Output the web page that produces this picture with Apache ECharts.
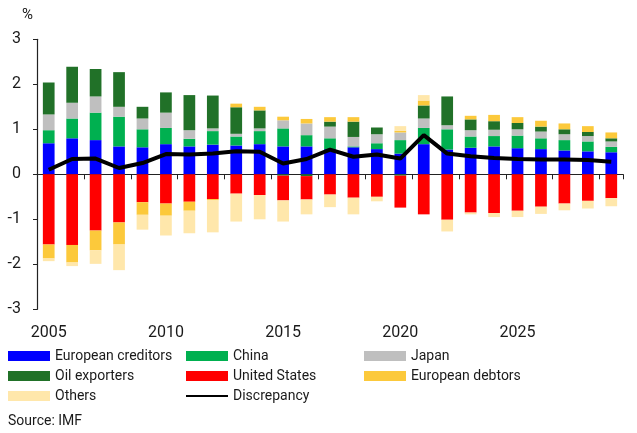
<!DOCTYPE html>
<html lang="en">
<head>
    <meta http-equiv="Content-Type" content="text/html; charset=utf-8"/>
    <title>Global current account balances</title>
    <script src="https://cdn.jsdelivr.net/npm/echarts@6/dist/echarts.min.js"></script>
</head>
<body style="margin:0">
<style>
    #chart {
        width: 637px;
        height: 433px;
    }
</style>
<div id="chart"></div>
<script type="text/javascript">

  var years = ['2005', '2006', '2007', '2008', '2009', '2010', '2011', '2012', '2013', '2014', '2015', '2016', '2017',
    '2018', '2019', '2020', '2021', '2022', '2023', '2024', '2025', '2026', '2027', '2028', '2029'];

  var euroCreditors = [0.69, 0.80, 0.76, 0.62, 0.60, 0.67, 0.62, 0.66, 0.64, 0.67, 0.62, 0.62, 0.56, 0.60, 0.56, 0.46, 0.67, 0.55, 0.59, 0.62, 0.58, 0.56, 0.53, 0.51, 0.49];
  var china = [0.29, 0.44, 0.61, 0.66, 0.40, 0.36, 0.17, 0.30, 0.20, 0.29, 0.40, 0.25, 0.24, 0.02, 0.13, 0.30, 0.36, 0.45, 0.25, 0.23, 0.28, 0.24, 0.23, 0.22, 0.12];
  var japan = [0.35, 0.35, 0.36, 0.22, 0.24, 0.34, 0.19, 0.06, 0.06, 0.06, 0.18, 0.26, 0.26, 0.21, 0.20, 0.17, 0.21, 0.09, 0.14, 0.14, 0.14, 0.15, 0.13, 0.12, 0.12];
  var oilExporters = [0.71, 0.80, 0.61, 0.77, 0.26, 0.45, 0.78, 0.73, 0.59, 0.40, -0.03, -0.04, 0.11, 0.34, 0.15, -0.03, 0.29, 0.64, 0.24, 0.19, 0.14, 0.11, 0.11, 0.09, 0.07];
  var unitedStates = [-1.56, -1.57, -1.25, -1.07, -0.62, -0.65, -0.61, -0.55, -0.43, -0.46, -0.55, -0.52, -0.45, -0.52, -0.50, -0.71, -0.89, -1.01, -0.85, -0.86, -0.81, -0.72, -0.65, -0.59, -0.53];
  var euroDebtors = [-0.31, -0.39, -0.44, -0.49, -0.28, -0.27, -0.20, -0.03, 0.08, 0.08, 0.08, 0.10, 0.10, 0.10, 0, 0.04, 0.11, 0, 0.08, 0.14, 0.13, 0.13, 0.13, 0.13, 0.13];
  var others = [-0.06, -0.08, -0.30, -0.57, -0.33, -0.44, -0.50, -0.71, -0.62, -0.54, -0.47, -0.33, -0.28, -0.37, -0.10, 0.10, 0.12, -0.26, -0.04, -0.09, -0.14, -0.16, -0.15, -0.17, -0.18];
  var discrepancy = [0.10, 0.34, 0.35, 0.14, 0.25, 0.45, 0.44, 0.46, 0.51, 0.50, 0.24, 0.34, 0.55, 0.39, 0.44, 0.35, 0.87, 0.46, 0.40, 0.36, 0.34, 0.33, 0.33, 0.32, 0.28];

  var FONT = 'Roboto';
  var TEXT = '#1a1a1a';

  function barSeries(name, data, color) {
    return {
      name: name,
      type: 'bar',
      stack: 'total',
      barWidth: '50%',
      data: data,
      itemStyle: {color: color},
      emphasis: {disabled: true}
    };
  }

  function legendColumn(left, names) {
    return {
      orient: 'vertical',
      left: left,
      top: 346,
      padding: 0,
      itemWidth: 42,
      itemHeight: 10,
      itemGap: 0,
      icon: 'rect',
      textStyle: {fontFamily: FONT, fontSize: 14, color: TEXT, lineHeight: 20},
      data: names
    };
  }

  var chart = echarts.init(document.getElementById('chart'));
  var option = {
    animation: false,
    title: [
      {text: '%', left: 22, top: 8, padding: 0, textStyle: {fontFamily: FONT, fontSize: 15, fontWeight: 'normal', color: TEXT}},
      {text: 'Source: IMF', left: 8, top: 414, padding: 0, textStyle: {fontFamily: FONT, fontSize: 14, fontWeight: 'normal', color: TEXT}}
    ],
    grid: {left: 37, right: 14, top: 39.3, bottom: 123.7, containLabel: false},
    legend: [
      legendColumn(8, ['European creditors', 'Oil exporters', 'Others']),
      legendColumn(186, ['China', 'United States', {name: 'Discrepancy', icon: 'path://M0,4 L42,4 L42,6 L0,6 Z'}]),
      legendColumn(364, ['Japan', 'European debtors'])
    ],
    xAxis: [
      {
        type: 'category',
        data: years,
        axisLine: {onZero: true, lineStyle: {color: '#222', width: 1.2}},
        axisTick: {show: true, length: 5, lineStyle: {color: '#222'}},
        axisLabel: {show: false}
      },
      {
        type: 'category',
        data: years,
        position: 'bottom',
        axisLine: {show: false, onZero: false},
        axisTick: {show: false},
        axisLabel: {interval: 4, margin: 16, fontFamily: FONT, fontSize: 16, color: TEXT}
      }
    ],
    yAxis: {
      type: 'value',
      min: -3,
      max: 3,
      interval: 1,
      splitLine: {show: false},
      axisLine: {show: true, lineStyle: {color: '#222', width: 1.2}},
      axisTick: {show: true, length: 4, lineStyle: {color: '#222'}},
      axisLabel: {margin: 16, fontFamily: FONT, fontSize: 16, color: TEXT}
    },
    series: [
      barSeries('European creditors', euroCreditors, '#0000ff'),
      barSeries('China', china, '#00b050'),
      barSeries('Japan', japan, '#bfbfbf'),
      barSeries('Oil exporters', oilExporters, '#217128'),
      barSeries('United States', unitedStates, '#ff0000'),
      barSeries('European debtors', euroDebtors, '#fcc93b'),
      barSeries('Others', others, '#ffe7ab'),
      {
        name: 'Discrepancy',
        type: 'line',
        data: discrepancy,
        symbol: 'none',
        z: 5,
        lineStyle: {color: '#000', width: 4},
        itemStyle: {color: '#000'}
      }
    ]
  };
  chart.setOption(option);
</script>
</body>
</html>
